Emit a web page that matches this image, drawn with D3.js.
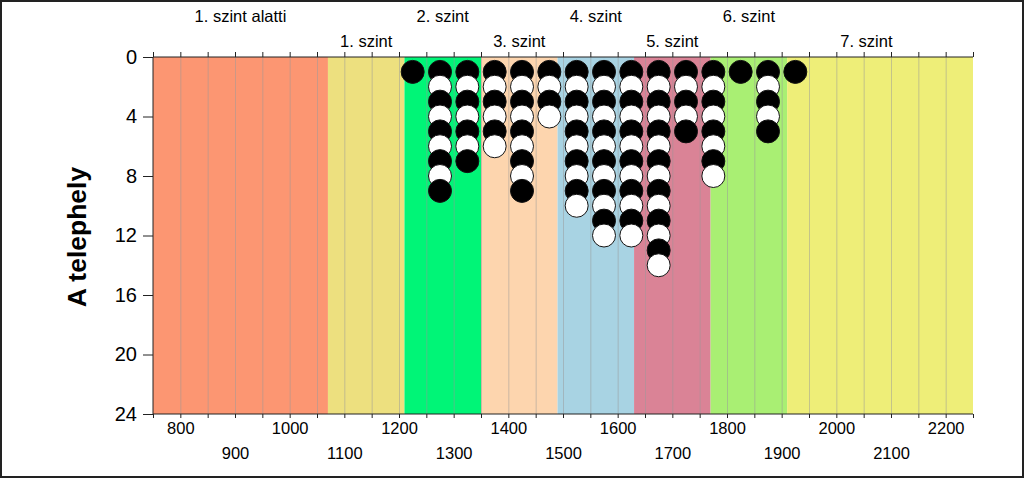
<!DOCTYPE html>
<html>
<head>
<meta charset="utf-8">
<script src="https://cdn.jsdelivr.net/npm/d3@7"></script>
<style>
  body { margin: 0; background: #fff; }
  svg text { font-family: Arial, 'Liberation Sans', sans-serif; fill: #000; }
</style>
</head>
<body>
<div id="chart"></div>
<script>
// level bands (x range in data units)
const bandNames = ['1. szint alatti', '1. szint', '2. szint', '3. szint', '4. szint', '5. szint', '6. szint', '7. szint'];
const bandStarts = [750, 1070, 1210, 1350, 1490, 1630, 1770, 1910];
const bandEnds = [1070, 1210, 1350, 1490, 1630, 1770, 1910, 2250];
const bandLabelAt = [910, 1140, 1280, 1420, 1560, 1700, 1840, 2055];
const bandColors = ['#fc9672', '#ede07f', '#00f577', '#fdd5ae', '#a8d3e3', '#da8396', '#a9ef73', '#eeee78'];

// stacked dots per bin
const binCenters = [1225, 1275, 1325, 1375, 1425, 1475, 1525, 1575, 1625, 1675, 1725, 1775, 1825, 1875, 1925];
const binCounts = [1, 9, 7, 6, 9, 4, 10, 12, 12, 14, 5, 8, 1, 5, 1];

const xTickLabels = [800, 900, 1000, 1100, 1200, 1300, 1400, 1500, 1600, 1700, 1800, 1900, 2000, 2100, 2200];
const yTickLabels = [0, 4, 8, 12, 16, 20, 24];

const width = 1024;
const height = 478;
const plotLeft = 153, plotRight = 973, plotTop = 57, plotBottom = 414;

const svg = d3.select('#chart')
              .append('svg')
                .attr('width', width)
                .attr('height', height);

const x = d3.scaleLinear().domain([750, 2250]).range([plotLeft, plotRight]);
const y = d3.scaleLinear().domain([0, 24]).range([plotTop, plotBottom]);

// background bands
svg.selectAll('rect.band')
   .data(bandNames)
   .enter()
     .append('rect')
       .attr('class', 'band')
       .attr('x', (d, i) => x(bandStarts[i]))
       .attr('y', plotTop)
       .attr('width', (d, i) => x(bandEnds[i]) - x(bandStarts[i]))
       .attr('height', plotBottom - plotTop)
       .attr('fill', (d, i) => bandColors[i]);

// vertical grid every 50
const gridVals = d3.range(800, 2250, 50);
svg.selectAll('line.grid')
   .data(gridVals)
   .enter()
     .append('line')
       .attr('x1', d => x(d) + 0.5)
       .attr('x2', d => x(d) + 0.5)
       .attr('y1', plotTop)
       .attr('y2', plotBottom)
       .attr('stroke', '#9a9a9a')
       .attr('stroke-opacity', 0.5);

// band labels, two rows
svg.selectAll('text.band')
   .data(bandNames)
   .enter()
     .append('text')
       .attr('x', (d, i) => x(bandLabelAt[i]))
       .attr('y', (d, i) => i % 2 == 0 ? 22 : 47)
       .attr('text-anchor', 'middle')
       .attr('font-size', 16.5)
       .text(d => d);

// dots
const dots = [];
binCenters.forEach((c, i) => {
    for (let k = 1; k <= binCounts[i]; k++) {
        dots.push({bin: c, level: k});
    }
});
svg.selectAll('circle')
   .data(dots)
   .enter()
     .append('circle')
       .attr('cx', d => x(d.bin))
       .attr('cy', d => y(d.level))
       .attr('r', 11.5)
       .attr('fill', d => d.level % 2 == 1 ? '#000' : '#fff')
       .attr('stroke', '#111')
       .attr('stroke-width', 1);

const tickVals = d3.range(750, 2251, 50);

// top axis
const topAxis = svg.append('g')
   .attr('transform', `translate(0, ${plotTop})`)
   .call(d3.axisTop(x).tickValues(tickVals).tickSize(5).tickFormat(''));

// bottom axis
const bottomAxis = svg.append('g')
   .attr('transform', `translate(0, ${plotBottom})`)
   .call(d3.axisBottom(x).tickValues(tickVals).tickSize(4)
         .tickFormat(d => xTickLabels.includes(d) ? d : ''));
bottomAxis.selectAll('text')
   .attr('font-size', 16.5)
   .attr('y', d => (xTickLabels.indexOf(d) % 2 == 0) ? 8 : 33);

// left axis
const leftAxis = svg.append('g')
   .attr('transform', `translate(${plotLeft}, 0)`)
   .call(d3.axisLeft(y).tickValues(yTickLabels).tickSize(10).tickPadding(6));
leftAxis.selectAll('text').attr('font-size', 20);

[topAxis, bottomAxis, leftAxis].forEach(g => {
    g.select('.domain').attr('stroke', '#222');
    g.selectAll('.tick line').attr('stroke', '#222');
});
topAxis.select('.domain').attr('d', `M${plotLeft},0H${plotRight}`);
bottomAxis.select('.domain').attr('d', `M${plotLeft},0H${plotRight}`);
leftAxis.select('.domain').attr('d', `M0,${plotTop}V${plotBottom}`);

// y title
svg.append('text')
   .attr('transform', `translate(86, 237) rotate(-90)`)
   .attr('text-anchor', 'middle')
   .attr('font-size', 26.5)
   .attr('font-weight', 'bold')
   .text('A telephely');

// outer frame
svg.append('rect')
   .attr('x', 1)
   .attr('y', 1)
   .attr('width', width - 2)
   .attr('height', height - 2)
   .attr('fill', 'none')
   .attr('stroke', '#222')
   .attr('stroke-width', 2);
</script>
</body>
</html>
